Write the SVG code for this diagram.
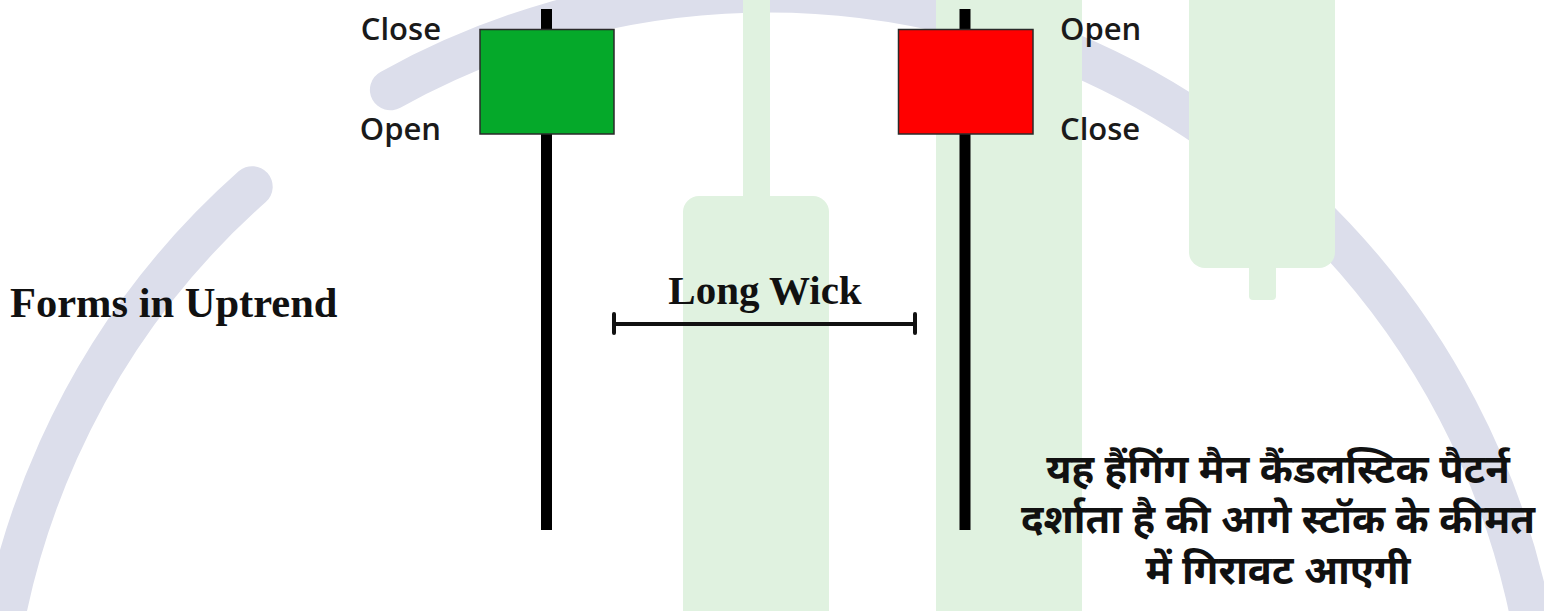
<svg xmlns="http://www.w3.org/2000/svg" width="1544" height="611" viewBox="0 0 1544 611">
  <style>
    .arc { fill: none; stroke: #dcdeeb; stroke-width: 41; stroke-linecap: round; }
    .bg { fill: #e0f2e0; }
    .wick { fill: #000000; }
    .body { stroke: #2a2a2a; stroke-width: 1.5; }
    .lbl { font-family: "Open Sans", "Noto Sans", sans-serif; font-weight: 600; font-size: 31px; fill: #1a1a1a; }
    .serif { font-family: "Liberation Serif", "DejaVu Serif", serif; font-weight: bold; fill: #111111; }
    .hindi { font-family: "Noto Sans Devanagari", "Noto Sans", "Lohit Devanagari", sans-serif; font-weight: bold; font-size: 40px; fill: #111111; text-anchor: middle; }
    .bracket { stroke: #111111; stroke-width: 4; fill: none; stroke-linecap: round; }
  </style>
  <rect width="1544" height="611" fill="#ffffff"/>

  <g id="background">
    <path class="arc" d="M 252.2 186.7 A 778 778 0 0 0 -10 770"/>
    <path class="arc" d="M 390.4 89.8 A 778 778 0 0 1 1546 770"/>
    <rect class="bg" x="743" y="-10" width="27" height="220"/>
    <rect class="bg" x="683" y="196" width="146" height="440" rx="16"/>
    <rect class="bg" x="936" y="-10" width="146" height="640"/>
    <rect class="bg" x="1249" y="240" width="27" height="60" rx="4"/>
    <rect class="bg" x="1189" y="-30" width="146" height="298" rx="16"/>
  </g>

  <g id="green-candle">
    <rect class="wick" x="541" y="9" width="11" height="521"/>
    <rect class="body" x="480" y="29.5" width="134" height="104.5" fill="#05a92a"/>
    <text class="lbl" x="441" y="40" text-anchor="end">Close</text>
    <text class="lbl" x="441" y="140" text-anchor="end">Open</text>
  </g>

  <g id="red-candle">
    <rect class="wick" x="959.5" y="9" width="11" height="521"/>
    <rect class="body" x="898.5" y="29.5" width="134.5" height="104.5" fill="#ff0000"/>
    <text class="lbl" x="1060" y="40">Open</text>
    <text class="lbl" x="1060" y="140">Close</text>
  </g>

  <g id="connectors">
    <path class="bracket" d="M 614 324 H 915 M 614 314 V 333 M 915 314 V 333"/>
  </g>

  <g id="long-wick-label">
    <text class="serif" x="765" y="304" font-size="41" text-anchor="middle">Long Wick</text>
  </g>

  <g id="uptrend-label">
    <text class="serif" x="10" y="317" font-size="42.5">Forms in Uptrend</text>
  </g>

  <g id="hindi-note">
    <text class="hindi" x="1278" y="483">यह हैंगिंग मैन कैंडलस्टिक पैटर्न</text>
    <text class="hindi" x="1278" y="533">दर्शाता है की आगे स्टॉक के कीमत</text>
    <text class="hindi" x="1278" y="584">में गिरावट आएगी</text>
  </g>
</svg>
